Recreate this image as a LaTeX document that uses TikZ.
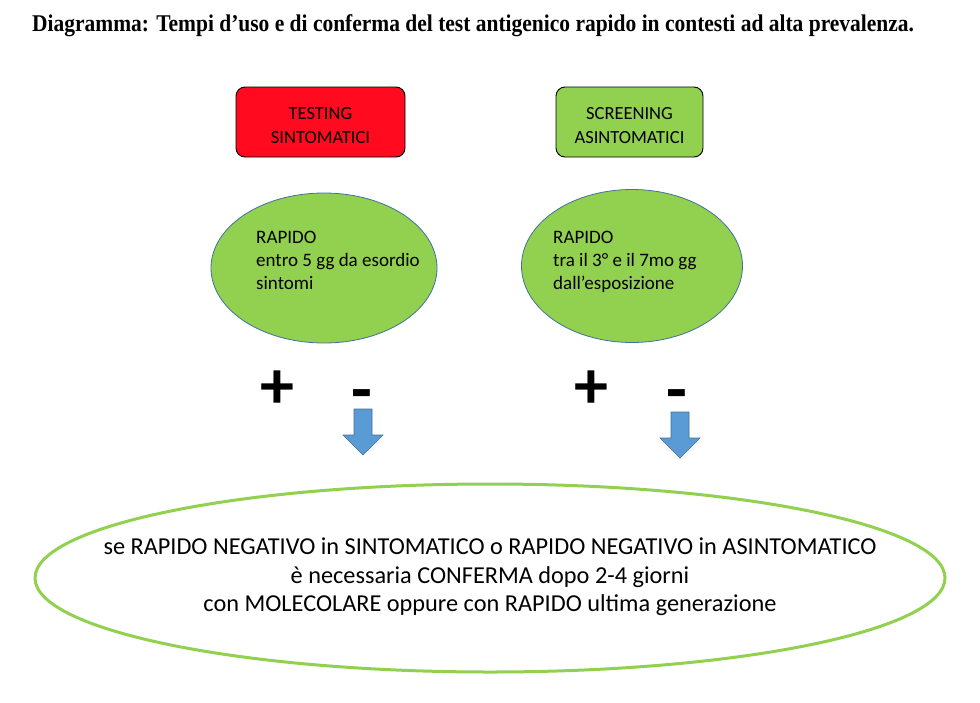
\documentclass[tikz,border=0pt]{standalone}
\usepackage{fontspec}
\setmainfont{Carlito}
\newfontfamily\titlefont{Liberation Serif}
\usetikzlibrary{shapes.geometric}
\definecolor{pgreen}{HTML}{92D050}
\definecolor{pred}{HTML}{FF0A1E}
\definecolor{pblue}{HTML}{5B9BD5}
\definecolor{pborder}{HTML}{41719C}
\tikzset{
  catbox/.style={draw=black, line width=0.9pt, rounded corners=9pt, minimum width=169pt, minimum height=70pt, inner sep=0pt},
  boxtext/.style={align=center, inner sep=0pt, font=\fontsize{18.5}{24}\selectfont},
  testell/.style={ellipse, draw=pborder, line width=0.8pt, fill=pgreen, inner sep=0pt},
  elltext/.style={anchor=north west, align=left, inner sep=0pt, font=\fontsize{19}{23}\selectfont},
  sign/.style={inner sep=0pt, font=\bfseries\fontsize{68}{68}\selectfont},
  blockarrow/.style={fill=pblue, draw=pborder, line width=0.6pt, line join=miter},
}
\begin{document}
\begin{tikzpicture}[x=1pt,y=-1pt]
\useasboundingbox (0,0) rectangle (980,702);
\fill[white] (0,0) rectangle (980,702);
% title
\node[anchor=base west, inner sep=0pt, font=\titlefont\bfseries\fontsize{24}{28}\selectfont] (title) at (32,31)
  {\scalebox{0.895}[1]{Diagramma: Tempi d’uso e di conferma del test antigenico rapido in contesti ad alta prevalenza.}};
% category boxes
\node[catbox, fill=pred] (sint) at (320.5,122) {};
\node[boxtext] (sinttxt) at ([yshift=-4pt]sint.center) {TESTING\\SINTOMATICI};
\node[catbox, fill=pgreen, minimum width=147pt] (asint) at (629.5,122) {};
\node[boxtext] (asinttxt) at ([yshift=-4pt]asint.center) {SCREENING\\ASINTOMATICI};
% test ellipses
\node[testell, minimum width=226pt, minimum height=150pt] (ellL) at (324,268) {};
\node[testell, minimum width=221pt, minimum height=153pt] (ellR) at (632,266) {};
\node[elltext] (txtL) at (256,231) {RAPIDO\\entro 5 gg da esordio\\sintomi};
\node[elltext] (txtR) at (553,231) {RAPIDO\\tra il 3° e il 7mo gg\\dall’esposizione};
% signs
\node[sign] (plusL) at (277,390) {+};
\node[sign] (minusL) at (362,401) {-};
\node[sign] (plusR) at (591,390) {+};
\node[sign] (minusR) at (677,401) {-};
% block arrows
\coordinate (arrL) at (363,409);
\coordinate (arrR) at (680,412);
\foreach \a in {arrL,arrR}{
  \draw[blockarrow] (\a) ++(-9,0) -- ++(18,0) -- ++(0,26) -- ++(11,0) -- ++(-20,20) -- ++(-20,-20) -- ++(11,0) -- cycle;
}
% conclusion ellipse
\node[inner sep=0pt, align=center, font=\fontsize{24.3}{28.5}\selectfont] (concl) at (490,577)
  {se RAPIDO NEGATIVO in SINTOMATICO o RAPIDO NEGATIVO in ASINTOMATICO\\
   è necessaria CONFERMA dopo 2-4 giorni\\
   con MOLECOLARE oppure con RAPIDO ultima generazione};
\draw[draw=pgreen, line width=3pt] (concl.center) ++(0,1) ellipse [x radius=455, y radius=94];
\end{tikzpicture}
\end{document}
